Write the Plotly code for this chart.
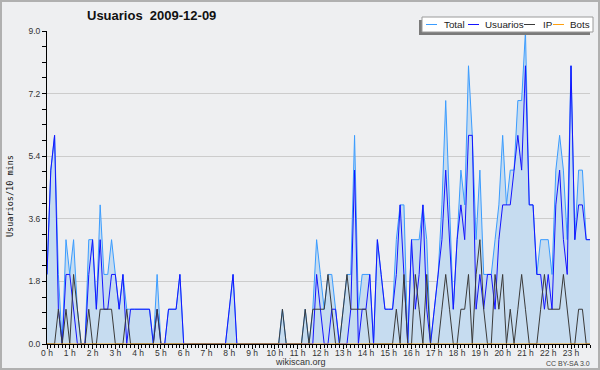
import plotly.graph_objects as go

# ---------------- data (10-minute slots, 144 per day) ----------------
slots = list(range(144))

total = [2, 5, 6, 2, 0, 3, 2, 3, 1, 0, 0, 3, 3, 1, 4, 2, 2, 3, 2, 1,
         2, 1, 1, 1, 1, 1, 1, 1, 0, 2, 0, 0, 1, 1, 1, 2, 0, 0, 0, 0,
         0, 0, 0, 0, 0, 0, 0, 0, 1, 2, 0, 0, 0, 0, 0, 0, 0, 0, 0, 0,
         0, 0, 1, 0, 0, 0, 0, 0, 1, 0, 1, 3, 2, 1, 2, 2, 1, 0, 1, 2,
         2, 6, 1, 2, 2, 2, 0, 3, 2, 1, 1, 1, 3, 4, 4, 0, 3, 3, 3, 4,
         3, 0, 1, 2, 4, 7, 4, 1, 3, 5, 4, 8, 6, 3, 5, 2, 2, 2, 3, 4,
         6, 4, 5, 5, 7, 7, 9, 4, 4, 2, 3, 3, 3, 2, 5, 6, 5, 3, 8, 3,
         5, 5, 3, 3]

usuarios = [2, 5, 6, 1, 0, 2, 2, 1, 0, 0, 0, 2, 3, 1, 3, 1, 1, 2, 2, 1,
            2, 0, 1, 1, 1, 1, 1, 1, 0, 1, 0, 0, 1, 1, 1, 2, 0, 0, 0, 0,
            0, 0, 0, 0, 0, 0, 0, 0, 1, 2, 0, 0, 0, 0, 0, 0, 0, 0, 0, 0,
            0, 0, 0, 0, 0, 0, 0, 0, 0, 0, 0, 2, 1, 0, 0, 1, 1, 0, 0, 0,
            1, 5, 0, 1, 1, 2, 0, 3, 2, 1, 1, 1, 2, 4, 2, 0, 3, 1, 2, 4,
            1, 0, 1, 2, 3, 5, 3, 1, 3, 4, 3, 6, 6, 1, 2, 1, 2, 2, 1, 3,
            4, 4, 4, 5, 6, 5, 8, 4, 4, 2, 2, 1, 2, 1, 4, 5, 3, 2, 8, 3,
            4, 4, 3, 3]

ip = [0, 0, 0, 1, 0, 1, 0, 2, 1, 0, 0, 1, 0, 0, 1, 1, 1, 1, 0, 0,
      0, 1, 0, 0, 0, 0, 0, 0, 0, 1, 0, 0, 0, 0, 0, 0, 0, 0, 0, 0,
      0, 0, 0, 0, 0, 0, 0, 0, 0, 0, 0, 0, 0, 0, 0, 0, 0, 0, 0, 0,
      0, 0, 1, 0, 0, 0, 0, 0, 1, 0, 1, 1, 1, 1, 2, 1, 0, 0, 1, 2,
      1, 1, 1, 1, 1, 0, 0, 0, 0, 0, 0, 0, 1, 0, 2, 0, 0, 2, 1, 0,
      2, 0, 0, 0, 1, 2, 1, 0, 0, 1, 1, 2, 0, 2, 3, 1, 0, 0, 2, 1,
      2, 0, 1, 0, 1, 2, 1, 0, 0, 0, 1, 2, 1, 1, 1, 1, 2, 1, 0, 0,
      1, 1, 0, 0]

bots = [0] * 144

hour_ticks = [0, 6, 12, 18, 24, 30, 36, 42, 48, 54, 60, 66, 72, 78, 84, 90,
              96, 102, 108, 114, 120, 126, 132, 138]
hour_labels = ["0 h", "1 h", "2 h", "3 h", "4 h", "5 h", "6 h", "7 h", "8 h",
               "9 h", "10 h", "11 h", "12 h", "13 h", "14 h", "15 h", "16 h",
               "17 h", "18 h", "19 h", "20 h", "21 h", "22 h", "23 h"]

series_names = ["Total", "Usuarios", "IP", "Bots"]
series_colors = ["#3a9cff", "#1414ff", "#3a3a3a", "#ffa010"]

# ---------------- figure ----------------
W, H = 600, 370
L, R, T, B = 47, 10, 31, 26
PW, PH = W - L - R, H - T - B


def fx(px):
    return (px - L) / PW


def fy(py):
    return (H - B - py) / PH


BG = "#eeeff1"
fig = go.Figure()

fig.add_trace(go.Scatter(x=slots, y=total, mode="lines", name=series_names[0],
                         line=dict(color=series_colors[0], width=1),
                         fill="tozeroy", fillcolor="rgb(198,220,240)"))
fig.add_trace(go.Scatter(x=slots, y=usuarios, mode="lines", name=series_names[1],
                         line=dict(color=series_colors[1], width=1)))
fig.add_trace(go.Scatter(x=slots, y=ip, mode="lines", name=series_names[2],
                         line=dict(color=series_colors[2], width=1)))
fig.add_trace(go.Scatter(x=slots, y=bots, mode="lines", name=series_names[3],
                         line=dict(color=series_colors[3], width=1)))

tick_font = dict(family="Liberation Sans", size=8.5, color="#333333")

fig.update_layout(
    width=W, height=H,
    margin=dict(l=L, r=R, t=T, b=B, pad=0),
    paper_bgcolor=BG, plot_bgcolor=BG,
    showlegend=False,
    xaxis=dict(range=[0, 143], tickmode="array", tickvals=hour_ticks,
               ticktext=hour_labels, ticks="outside", ticklen=4, tickcolor="black",
               tickwidth=1, showline=True, linecolor="black", linewidth=1,
               showgrid=False, zeroline=False, tickfont=tick_font,
               ticklabelstandoff=-3,
               minor=dict(dtick=1, tick0=0, ticks="outside", ticklen=3,
                          tickcolor="black", showgrid=False)),
    yaxis=dict(range=[0, 9], tickmode="linear", tick0=0, dtick=1.8,
               tickformat=".1f", ticks="outside", ticklen=4, tickcolor="black",
               showline=True, linecolor="black", linewidth=1,
               showgrid=True, gridcolor="#cccccc", gridwidth=1, zeroline=False,
               tickfont=tick_font,
               minor=dict(dtick=0.45, tick0=0, ticks="outside", ticklen=4,
                          tickcolor="black", showgrid=False)),
)

shapes = []
annotations = []

# outer frame
shapes.append(dict(type="rect", xref="paper", yref="paper",
                   x0=fx(1), x1=fx(599), y0=fy(369), y1=fy(1),
                   line=dict(color="#b0b0b0", width=2), fillcolor="rgba(0,0,0,0)",
                   layer="above"))

# legend shadow + box
shapes.append(dict(type="rect", xref="paper", yref="paper",
                   x0=fx(419), x1=fx(590), y0=fy(35), y1=fy(20),
                   line=dict(width=0), fillcolor="#7a7a7a", layer="above"))
shapes.append(dict(type="rect", xref="paper", yref="paper",
                   x0=fx(422), x1=fx(593), y0=fy(32), y1=fy(17),
                   line=dict(color="#9a9a9a", width=1), fillcolor="white",
                   layer="above"))

legend_line_x = [(426, 437), (468, 479), (524, 535), (553, 564)]
legend_text_x = [442, 483, 541, 568]
for (a, b), tx, name, col in zip(legend_line_x, legend_text_x, series_names, series_colors):
    shapes.append(dict(type="line", xref="paper", yref="paper",
                       x0=fx(a), x1=fx(b), y0=fy(24.5), y1=fy(24.5),
                       line=dict(color=col, width=1), layer="above"))
    annotations.append(dict(text=name, xref="paper", yref="paper",
                            x=fx(tx), y=fy(24.5), xanchor="left", yanchor="middle",
                            showarrow=False,
                            font=dict(family="Liberation Sans", size=9.8, color="#222222")))

# title
annotations.append(dict(text="<b>Usuarios  2009-12-09</b>", xref="paper", yref="paper",
                        x=fx(151), y=fy(16), xanchor="center", yanchor="middle",
                        showarrow=False,
                        font=dict(family="Liberation Sans", size=13, color="#111111")))
# y-axis title
annotations.append(dict(text="Usuarios/10 mins", xref="paper", yref="paper",
                        x=fx(10), y=fy(196), xanchor="center", yanchor="middle",
                        textangle=-90, showarrow=False,
                        font=dict(family="DejaVu Sans Mono", size=8.5, color="#111111")))
# footer
annotations.append(dict(text="wikiscan.org", xref="paper", yref="paper",
                        x=fx(300), y=fy(362), xanchor="center", yanchor="middle",
                        showarrow=False,
                        font=dict(family="Liberation Sans", size=9, color="#333333")))
annotations.append(dict(text="CC BY-SA 3.0", xref="paper", yref="paper",
                        x=fx(592), y=fy(363), xanchor="right", yanchor="middle",
                        showarrow=False,
                        font=dict(family="Liberation Sans", size=7, color="#444444")))

fig.update_layout(shapes=shapes, annotations=annotations)
fig.write_html("out.html", config={"displayModeBar": False},
               post_script="document.body.style.margin='0';")
